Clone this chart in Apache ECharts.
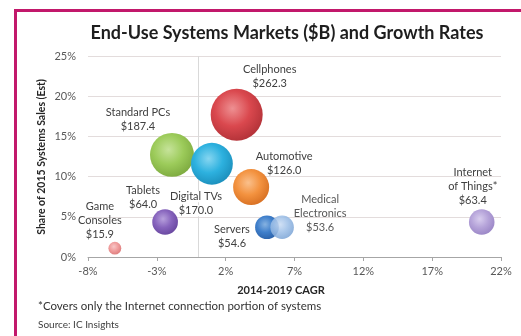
<!DOCTYPE html>
<html>
<head>
<meta charset="utf-8">
<script src="https://cdn.jsdelivr.net/npm/echarts@6/dist/echarts.min.js"></script>
<style>
  html, body { margin: 0; padding: 0; background: #ffffff; }
  #chart { width: 521px; height: 336px; }
</style>
</head>
<body>
<div id="chart"></div>
<script>
// End-use system markets: growth (2014-2019 CAGR, %), share of 2015 sales (%), market size ($B)
const markets = ['Standard PCs', 'Digital TVs', 'Cellphones', 'Automotive', 'Tablets',
                 'Game Consoles', 'Servers', 'Medical Electronics', 'Internet of Things*'];
const labelLines = ['Standard PCs', 'Digital TVs', 'Cellphones', 'Automotive', 'Tablets',
                    'Game\nConsoles', 'Servers', 'Medical\nElectronics', 'Internet\nof Things*'];
const cagr  = [-1.9, 1.0, 2.8, 3.85, -2.4, -6.05, 5.0, 6.1, 20.6];
const share = [12.7, 11.6, 17.7, 8.7, 4.35, 1.1, 3.7, 3.7, 4.35];
const sales = [187.4, 170.0, 262.3, 126.0, 64.0, 15.9, 54.6, 53.6, 63.4];
const xTicks = [-8, -3, 2, 7, 12, 17, 22];
const yTicks = [0, 5, 10, 15, 20, 25];

// colour stops per bubble: [highlight, base, shade]
const palette = [
  ['#c6e39a', '#9ccb5a', '#80ad42'],
  ['#86d6f1', '#2db1df', '#1d92bf'],
  ['#ee9092', '#da484e', '#b6343a'],
  ['#fac08c', '#f3923f', '#da7325'],
  ['#b7a0dc', '#8764bd', '#6b4aa2'],
  ['#f8c6c6', '#f09c9c', '#df8080'],
  ['#86b2e1', '#3f7fcb', '#2d65ad'],
  ['#cadcf3', '#9dbfe7', '#7fa7d7'],
  ['#d8cdee', '#b5a3d9', '#9d89c8']
];
const opacities = [1, 1, 1, 1, 1, 1, 1, 0.88, 1];
// label block offsets from each bubble centre
const labelOffsets = [[-34, -35], [-16, 40], [33, -38], [33, -24], [-22, -25],
                      [-15, -28], [-35, 9], [38, -14], [-9, -36]];
// labels that sit across the zero-growth line get an opaque backing
const opaqueLabel = [false, true, false, false, false, false, false, false, false];

const sizeScale = 52 / Math.sqrt(262.3);

const data = markets.map((name, i) => {
  const text = labelLines[i] + '\n$' + sales[i].toFixed(1);
  const label = {
    show: true,
    position: 'inside',
    offset: labelOffsets[i],
    formatter: opaqueLabel[i]
      ? text.split('\n').map(s => '{bg|' + s + '}').join('\n')
      : text
  };
  return {
    name: name,
    value: [cagr[i], share[i], sales[i]],
    symbolSize: sizeScale * Math.sqrt(sales[i]),
    itemStyle: {
      opacity: opacities[i],
      color: new echarts.graphic.RadialGradient(0.42, 0.38, 0.62, [
        { offset: 0, color: palette[i][0] },
        { offset: 0.55, color: palette[i][1] },
        { offset: 1, color: palette[i][2] }
      ])
    },
    label: label
  };
});

const chart = echarts.init(document.getElementById('chart'), null, { renderer: 'canvas' });
const font = 'Lato, "Liberation Sans", sans-serif';

chart.setOption({
  animation: false,
  backgroundColor: '#ffffff',
  grid: { left: 88, right: 20, top: 56, bottom: 79, containLabel: false },
  xAxis: {
    type: 'value',
    min: xTicks[0], max: xTicks[xTicks.length - 1], interval: 5,
    splitLine: { show: false },
    axisLine: { show: true, onZero: false, lineStyle: { color: '#a6a6a6', width: 1 } },
    axisTick: { show: true, length: 4, lineStyle: { color: '#a6a6a6' } },
    axisLabel: { color: '#595959', fontFamily: font, fontSize: 11, margin: 9,
                 formatter: v => v + '%' }
  },
  yAxis: {
    type: 'value',
    min: yTicks[0], max: yTicks[yTicks.length - 1], interval: 5,
    axisLine: { show: false },
    axisTick: { show: false },
    splitLine: { show: true, lineStyle: { color: '#e3dcdc', width: 1 } },
    axisLabel: { color: '#595959', fontFamily: font, fontSize: 11, margin: 12,
                 formatter: v => v + '%' }
  },
  series: [{
    type: 'scatter',
    data: data,
    label: {
      color: '#404040',
      fontFamily: font,
      fontSize: 11,
      lineHeight: 14,
      align: 'center',
      verticalAlign: 'middle',
      rich: {
        bg: {
          color: '#404040',
          fontFamily: font,
          fontSize: 11,
          lineHeight: 14,
          backgroundColor: '#ffffff',
          padding: [0, 1]
        }
      }
    },
    emphasis: { disabled: true },
    markLine: {
      silent: true,
      symbol: 'none',
      z: 1,
      label: { show: false },
      lineStyle: { color: '#d9d9d9', type: 'solid', width: 1 },
      data: [{ xAxis: 0 }]
    }
  }],
  graphic: [
    { type: 'rect', shape: { x: 14, y: 9, width: 507, height: 3 }, style: { fill: '#c2186b' } },
    { type: 'rect', shape: { x: 14, y: 9, width: 3, height: 327 }, style: { fill: '#c2186b' } },
    { type: 'text', x: 287, y: 33,
      style: { text: 'End-Use Systems Markets ($B) and Growth Rates', fill: '#1e1e1e',
               font: 'bold 18px ' + font, align: 'center', verticalAlign: 'middle' } },
    { type: 'text', x: 42, y: 157, rotation: Math.PI / 2,
      style: { text: 'Share of 2015 Systems Sales (Est)', fill: '#262626',
               font: 'bold 10.5px ' + font, align: 'center', verticalAlign: 'middle' } },
    { type: 'text', x: 281, y: 290,
      style: { text: '2014-2019 CAGR', fill: '#262626',
               font: 'bold 11px ' + font, align: 'center', verticalAlign: 'middle' } },
    { type: 'text', x: 38, y: 306,
      style: { text: '*Covers only the Internet connection portion of systems', fill: '#333333',
               font: '11.5px ' + font, align: 'left', verticalAlign: 'middle' } },
    { type: 'text', x: 38, y: 325,
      style: { text: 'Source: IC Insights', fill: '#404040',
               font: '10px ' + font, align: 'left', verticalAlign: 'middle' } }
  ]
});
</script>
</body>
</html>
